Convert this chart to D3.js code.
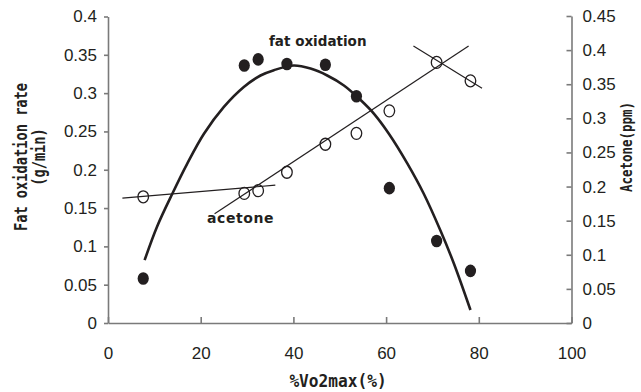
<!DOCTYPE html>
<html lang="en">
<head>
    <meta charset="UTF-8">
    <title>Fat oxidation and acetone</title>
    <script src="https://d3js.org/d3.v7.min.js"></script>
    <style>
        body, html {
            margin: 0;
            padding: 0;
            overflow: hidden;
            background: #fff;
        }
        svg {
            display: block;
        }
        .axis path, .axis line {
            stroke: #7a7a7a;
            stroke-width: 1.6px;
        }
        .axis text {
            font-family: "Liberation Sans", Arial, sans-serif;
            font-size: 17px;
            fill: #231f20;
        }
        .title {
            font-family: "DejaVu Sans Mono", monospace;
            font-weight: bold;
            fill: #231f20;
        }
        .label {
            font-family: "DejaVu Sans", sans-serif;
            font-weight: bold;
            fill: #231f20;
        }
    </style>
</head>
<body>
<svg width="641" height="392"></svg>

<script>
    // %VO2max of each stage
    const vo2 = [7.6, 29.4, 32.4, 38.6, 46.9, 53.6, 60.7, 70.9, 78.2];
    // fat oxidation rate (g/min), filled circles
    const fatRate = [0.058, 0.336, 0.344, 0.338, 0.337, 0.296, 0.176, 0.107, 0.068];
    // acetone (ppm), open circles
    const acetone = [0.185, 0.190, 0.194, 0.221, 0.262, 0.278, 0.311, 0.382, 0.355];

    // fitted fat oxidation curve
    const fatCurve = [
        [7.9, 0.082], [10.6, 0.126], [13.9, 0.169], [17.1, 0.208], [20.7, 0.247],
        [25.0, 0.282], [29.3, 0.308], [32.9, 0.323], [35.8, 0.330], [40.1, 0.336],
        [43.7, 0.332], [47.3, 0.323], [50.9, 0.310], [54.5, 0.291], [57.4, 0.273],
        [60.6, 0.247], [64.6, 0.208], [68.1, 0.169], [71.7, 0.121], [74.6, 0.078],
        [78.2, 0.017]
    ];

    // acetone trend segments (right axis)
    const acetoneLines = [
        [[3.1, 0.183], [36.1, 0.202]],
        [[23.0, 0.160], [77.8, 0.406]],
        [[65.9, 0.406], [80.7, 0.344]]
    ];

    const xTicks = [0, 20, 40, 60, 80, 100];
    const leftTicks = [0, 0.05, 0.1, 0.15, 0.2, 0.25, 0.3, 0.35, 0.4];
    const rightTicks = [0, 0.05, 0.1, 0.15, 0.2, 0.25, 0.3, 0.35, 0.4, 0.45];

    const svg = d3.select('svg');
    const fmt = d3.format('.2~f');

    const x = d3.scaleLinear().domain([0, 100]).range([108, 571.5]);
    const yLeft = d3.scaleLinear().domain([0, 0.4]).range([323, 16.5]);
    const yRight = d3.scaleLinear().domain([0, 0.45]).range([323, 16]);

    svg.append('g')
        .attr('class', 'axis')
        .attr('transform', 'translate(0,323)')
        .call(d3.axisBottom(x).tickValues(xTicks).tickSizeInner(-6).tickSizeOuter(0).tickPadding(24));

    svg.append('g')
        .attr('class', 'axis')
        .attr('transform', 'translate(108,0)')
        .call(d3.axisLeft(yLeft).tickValues(leftTicks).tickFormat(fmt).tickSizeInner(4).tickSizeOuter(0).tickPadding(7));

    svg.append('g')
        .attr('class', 'axis')
        .attr('transform', 'translate(571.5,0)')
        .call(d3.axisRight(yRight).tickValues(rightTicks).tickFormat(fmt).tickSizeInner(-5).tickSizeOuter(0).tickPadding(11));

    svg.selectAll('.axis .domain').attr('stroke', '#7a7a7a');

    // axis titles: narrow, tall gothic look by squeezing a mono font
    svg.append('text')
        .attr('class', 'title')
        .attr('transform', 'translate(27,157) rotate(-90) scale(0.76,1)')
        .attr('text-anchor', 'middle')
        .attr('font-size', 18)
        .text('Fat oxidation rate');

    svg.append('text')
        .attr('class', 'title')
        .attr('transform', 'translate(45,157) rotate(-90) scale(0.76,1)')
        .attr('text-anchor', 'middle')
        .attr('font-size', 18)
        .text('(g/min)');

    svg.append('text')
        .attr('class', 'title')
        .attr('transform', 'translate(632,147) rotate(-90) scale(0.78,1)')
        .attr('text-anchor', 'middle')
        .attr('font-size', 16)
        .text('Acetone(ppm)');

    svg.append('text')
        .attr('class', 'title')
        .attr('transform', 'translate(338,387) scale(0.95,1)')
        .attr('text-anchor', 'middle')
        .attr('font-size', 17)
        .text('%Vo2max(%)');

    // acetone trend lines
    svg.append('g')
        .selectAll('line')
        .data(acetoneLines)
        .enter().append('line')
        .attr('x1', d => x(d[0][0]))
        .attr('y1', d => yRight(d[0][1]))
        .attr('x2', d => x(d[1][0]))
        .attr('y2', d => yRight(d[1][1]))
        .attr('stroke', '#231f20')
        .attr('stroke-width', 1.2);

    // fat oxidation curve
    svg.append('path')
        .datum(fatCurve)
        .attr('fill', 'none')
        .attr('stroke', '#231f20')
        .attr('stroke-width', 2.6)
        .attr('d', d3.line().x(d => x(d[0])).y(d => yLeft(d[1])).curve(d3.curveCatmullRom));

    // acetone points
    svg.append('g')
        .selectAll('ellipse')
        .data(vo2)
        .enter().append('ellipse')
        .attr('cx', d => x(d))
        .attr('cy', (d, i) => yRight(acetone[i]))
        .attr('rx', 5.3)
        .attr('ry', 6)
        .attr('fill', 'none')
        .attr('stroke', '#231f20')
        .attr('stroke-width', 1.3);

    // fat oxidation points
    svg.append('g')
        .selectAll('ellipse')
        .data(vo2)
        .enter().append('ellipse')
        .attr('cx', d => x(d))
        .attr('cy', (d, i) => yLeft(fatRate[i]))
        .attr('rx', 5.6)
        .attr('ry', 6.3)
        .attr('fill', '#231f20');

    // in-plot labels
    svg.append('text')
        .attr('class', 'label')
        .attr('x', 269)
        .attr('y', 46)
        .attr('font-size', 13.5)
        .text('fat oxidation');

    svg.append('text')
        .attr('class', 'label')
        .attr('x', 207)
        .attr('y', 223)
        .attr('font-size', 14)
        .attr('letter-spacing', 0.6)
        .text('acetone');
</script>
</body>
</html>
